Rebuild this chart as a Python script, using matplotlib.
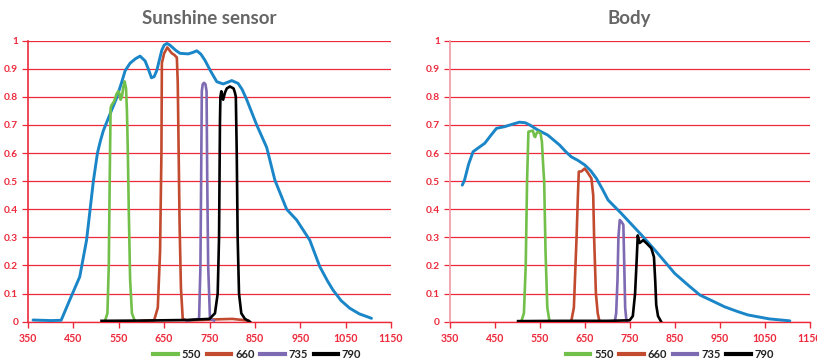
import matplotlib
matplotlib.use("Agg")
import matplotlib.pyplot as plt

# ---------------------------------------------------------------------------
# Data
# ---------------------------------------------------------------------------

sun_nm = [361, 380, 400, 423, 440, 464, 479, 494, 503, 509, 516, 531, 545, 556,
          564, 575, 587, 597, 608, 615, 622, 628, 634, 640, 645, 650, 656, 662,
          667, 676, 685, 703, 713, 722, 731, 740, 752, 766, 780, 790, 799, 813,
          822, 832, 843, 854, 876, 894, 920, 942, 971, 993, 1010, 1022, 1040,
          1059, 1080, 1107]
sun_val = [0.006, 0.005, 0.004, 0.005, 0.07, 0.16, 0.29, 0.50, 0.60, 0.64, 0.68,
           0.74, 0.795, 0.85, 0.893, 0.92, 0.936, 0.945, 0.928, 0.90, 0.868,
           0.872, 0.895, 0.935, 0.967, 0.984, 0.99, 0.985, 0.978, 0.965, 0.955,
           0.953, 0.958, 0.964, 0.952, 0.93, 0.893, 0.854, 0.846, 0.852, 0.858,
           0.848, 0.826, 0.79, 0.745, 0.70, 0.62, 0.504, 0.40, 0.362, 0.29,
           0.196, 0.145, 0.113, 0.075, 0.048, 0.028, 0.012]

sun_550_nm = [519, 525, 528, 530, 532, 534, 540, 545, 549, 552, 554, 557, 560, 563,
              566, 568, 570, 572, 575, 579, 586]
sun_550_val = [0.0, 0.03, 0.2, 0.5, 0.76, 0.77, 0.785, 0.81, 0.82, 0.81, 0.79,
               0.80, 0.835, 0.855, 0.83, 0.75, 0.6, 0.4, 0.15, 0.03, 0.0]

sun_660_nm = [600, 628, 636, 641, 644, 645, 650, 657, 662, 667, 672, 678, 680, 682,
              684, 687, 691, 700, 760, 800, 835]
sun_660_val = [0.003, 0.005, 0.05, 0.25, 0.6, 0.92, 0.955, 0.976, 0.965, 0.955,
               0.95, 0.94, 0.85, 0.6, 0.35, 0.12, 0.01, 0.004, 0.008, 0.01, 0.004]

sun_735_nm = [700, 727, 730, 731.5, 733, 735, 738, 741, 743.5, 745, 747, 751, 760]
sun_735_val = [0.004, 0.01, 0.2, 0.5, 0.82, 0.845, 0.85, 0.845, 0.82, 0.5, 0.2,
               0.01, 0.004]

sun_790_nm = [512, 600, 700, 750, 762, 768, 771, 773, 774, 776, 780, 784, 788, 795,
              803, 806, 808, 810, 812, 815, 820, 828, 839]
sun_790_val = [0.003, 0.004, 0.006, 0.01, 0.03, 0.1, 0.3, 0.71, 0.8, 0.82, 0.79,
               0.815, 0.83, 0.837, 0.83, 0.815, 0.80, 0.6, 0.3, 0.1, 0.03, 0.01,
               0.0]

body_nm = [378, 383, 392, 402, 415, 428, 440, 454, 472, 490, 505, 518, 528, 546,
           568, 594, 608, 620, 635, 650, 663, 676, 690, 702, 731, 776, 806, 830,
           850, 880, 906, 935, 961, 990, 1013, 1060, 1106]
body_val = [0.486, 0.504, 0.56, 0.605, 0.62, 0.635, 0.66, 0.688, 0.694, 0.703,
            0.71, 0.708, 0.70, 0.682, 0.664, 0.629, 0.605, 0.587, 0.574, 0.558,
            0.538, 0.51, 0.47, 0.433, 0.386, 0.309, 0.255, 0.21, 0.172, 0.13,
            0.095, 0.073, 0.053, 0.036, 0.024, 0.01, 0.003]

body_550_nm = [509, 515, 519, 522, 525, 530, 535, 538, 540, 543, 546, 552, 555, 558,
               560, 563, 567, 572]
body_550_val = [0.0, 0.03, 0.2, 0.5, 0.676, 0.678, 0.68, 0.66, 0.657, 0.67, 0.676,
                0.67, 0.64, 0.55, 0.5, 0.25, 0.05, 0.0]

body_660_nm = [620, 626, 632, 635, 637, 643, 650, 657, 665, 669, 671, 675, 679, 683]
body_660_val = [0.0, 0.05, 0.3, 0.45, 0.534, 0.535, 0.545, 0.53, 0.51, 0.45, 0.3,
                0.1, 0.03, 0.0]

body_735_nm = [717, 720, 723, 725, 728, 732, 736, 738, 740, 743]
body_735_val = [0.0, 0.03, 0.15, 0.3, 0.362, 0.355, 0.345, 0.2, 0.05, 0.0]

body_790_nm = [502, 600, 700, 750, 757, 762, 765, 768, 772, 780, 787, 798, 804, 807,
               809, 813, 820]
body_790_val = [0.002, 0.003, 0.003, 0.005, 0.02, 0.1, 0.2, 0.307, 0.28, 0.29, 0.28,
                0.262, 0.23, 0.14, 0.06, 0.02, 0.0]

filter_labels = ["550", "660", "735", "790"]
x_ticks = [350, 450, 550, 650, 750, 850, 950, 1050, 1150]
y_ticks = [0, 0.1, 0.2, 0.3, 0.4, 0.5, 0.6, 0.7, 0.8, 0.9, 1]
y_tick_labels = ["0", "0.1", "0.2", "0.3", "0.4", "0.5", "0.6", "0.7", "0.8", "0.9", "1"]

# ---------------------------------------------------------------------------
# Styling
# ---------------------------------------------------------------------------

RED = "#ec2a3c"
BLUE = "#1a86c8"
FILTER_COLORS = ["#72c04a", "#c24a2f", "#7d6ab2", "#000000"]
TITLE_GRAY = "#666666"

plt.rcParams["font.family"] = ["Lato", "DejaVu Sans"]


def style_axes(ax, title, spine_color):
    ax.set_xlim(350, 1150)
    ax.set_ylim(0, 1)
    ax.set_xticks(x_ticks)
    ax.set_xticklabels([str(t) for t in x_ticks])
    ax.set_yticks(y_ticks)
    ax.set_yticklabels(y_tick_labels)
    ax.grid(axis="y", color=RED, linewidth=0.9, zorder=0)
    for side in ("top", "right"):
        ax.spines[side].set_visible(False)
    ax.spines["bottom"].set_color(RED)
    ax.spines["bottom"].set_linewidth(1.0)
    ax.spines["left"].set_color(spine_color)
    ax.spines["left"].set_linewidth(1.2)
    ax.tick_params(axis="x", colors=RED, length=4, width=1.0, pad=4,
                   labelsize=7.6)
    ax.tick_params(axis="y", colors=RED, length=4, width=0.9, pad=3,
                   labelsize=7.3)
    for lab in ax.get_xticklabels() + ax.get_yticklabels():
        lab.set_fontweight("bold")
    ax.set_title(title, color=TITLE_GRAY, fontsize=13.5, fontweight="bold",
                 pad=12)


def draw_panel(ax, nm, val, filters, title, spine_color, legend_x):
    ax.plot(nm, val, color=BLUE, linewidth=2.1, zorder=3,
            solid_joinstyle="round", solid_capstyle="round")
    handles = []
    for (fx, fy), color, label in zip(filters, FILTER_COLORS, filter_labels):
        h, = ax.plot(fx, fy, color=color, linewidth=1.9, zorder=4, label=label,
                     solid_joinstyle="round")
        handles.append(h)
    style_axes(ax, title, spine_color)
    leg = ax.legend(handles=handles, loc="center",
                    bbox_to_anchor=(legend_x, -0.116), ncol=4, frameon=False,
                    handlelength=2.2, handletextpad=0.35, columnspacing=0.5,
                    borderpad=0.0, prop={"size": 8.0, "weight": "bold"})
    for t in leg.get_texts():
        t.set_color("#222222")
    for line in leg.get_lines():
        line.set_linewidth(3.0)


fig = plt.figure(figsize=(8.17, 3.6), dpi=100)
ax1 = fig.add_axes([0.0343, 0.1064, 0.4443, 0.7806])
ax2 = fig.add_axes([0.5504, 0.1064, 0.4406, 0.7806])

draw_panel(ax1, sun_nm, sun_val,
           [(sun_550_nm, sun_550_val), (sun_660_nm, sun_660_val),
            (sun_735_nm, sun_735_val), (sun_790_nm, sun_790_val)],
           "Sunshine sensor", RED, 0.632)
draw_panel(ax2, body_nm, body_val,
           [(body_550_nm, body_550_val), (body_660_nm, body_660_val),
            (body_735_nm, body_735_val), (body_790_nm, body_790_val)],
           "Body", "#f39aa4", 0.612)

fig.savefig("out.png", dpi=100)
